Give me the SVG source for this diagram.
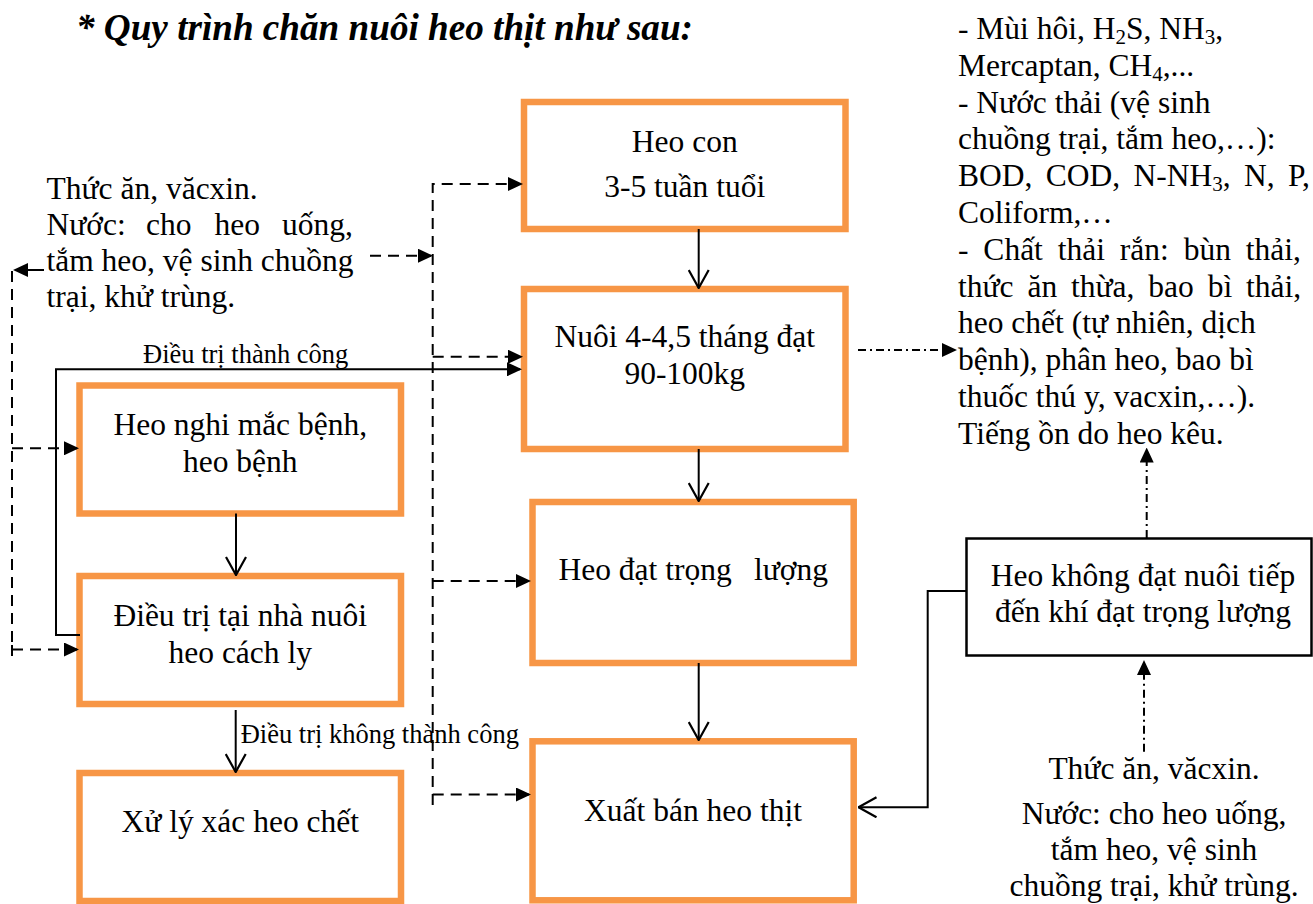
<svg xmlns="http://www.w3.org/2000/svg" width="1313" height="904" viewBox="0 0 1313 904">
  <style>
    .t { font-family: "Liberation Serif", "Times New Roman", serif; font-size: 31.5px; fill: #000; }
    .c { text-anchor: middle; }
    .lbl { font-family: "Liberation Serif", "Times New Roman", serif; font-size: 26.5px; fill: #000; }
    .title { font-family: "Liberation Serif", "Times New Roman", serif; font-size: 38px; font-weight: bold; font-style: italic; fill: #000; }
    .box { fill: #fff; stroke: #F79646; stroke-width: 6.5; }
    .box2 { fill: #fff; stroke: #000; stroke-width: 2.5; }
    .solid { fill: none; stroke: #000; stroke-width: 2; }
    .dash { fill: none; stroke: #000; stroke-width: 2; stroke-dasharray: 11 7; }
    .dashdot { fill: none; stroke: #000; stroke-width: 2; stroke-dasharray: 8 4 2 4; }
  </style>
  <defs>
    <marker id="open" markerUnits="userSpaceOnUse" viewBox="0 0 20 22" refX="19" refY="11" markerWidth="20" markerHeight="22" orient="auto">
      <path d="M1,1 L19,11 L1,21" fill="none" stroke="#000" stroke-width="2.2"/>
    </marker>
    <marker id="tri" markerUnits="userSpaceOnUse" viewBox="0 0 15 14" refX="13" refY="7" markerWidth="15" markerHeight="14" orient="auto">
      <path d="M0,0 L15,7 L0,14 Z" fill="#000"/>
    </marker>
  </defs>

  <!-- heading -->
  <text class="title" x="76" y="40" textLength="617" lengthAdjust="spacingAndGlyphs">* Quy trình chăn nuôi heo thịt như sau:</text>

  <!-- inputs for the rearing line -->
  <g id="inputs-left">
    <text class="t" x="46.5" y="198.5">Thức ăn, văcxin.</text>
    <text class="t" y="234.5"><tspan x="46.5">Nước:</tspan><tspan x="146">cho</tspan><tspan x="214.5">heo</tspan><tspan x="282">uống,</tspan></text>
    <text class="t" x="46.5" y="270.5">tắm heo, vệ sinh chuồng</text>
    <text class="t" x="46.5" y="306.5">trại, khử trùng.</text>
  </g>

  <!-- emissions -->
  <g id="emissions">
    <text class="t" x="958" y="39">- Mùi hôi, H<tspan font-size="21" dy="5">2</tspan><tspan dy="-5">S, NH</tspan><tspan font-size="21" dy="5">3</tspan><tspan dy="-5">,</tspan></text>
    <text class="t" x="958" y="75.8">Mercaptan, CH<tspan font-size="21" dy="5">4</tspan><tspan dy="-5">,...</tspan></text>
    <text class="t" x="958" y="112.6">- Nước thải (vệ sinh</text>
    <text class="t" x="958" y="149.4">chuồng trại, tắm heo,…):</text>
    <text class="t" x="958" y="186.2" word-spacing="5.5">BOD, COD, N-NH<tspan font-size="21" dy="5">3</tspan><tspan dy="-5">, N, P,</tspan></text>
    <text class="t" x="958" y="223">Coliform,…</text>
    <text class="t" x="958" y="259.8" word-spacing="7">- Chất thải rắn: bùn thải,</text>
    <text class="t" x="958" y="296.6" word-spacing="6">thức ăn thừa, bao bì thải,</text>
    <text class="t" x="958" y="333.4">heo chết (tự nhiên, dịch</text>
    <text class="t" x="958" y="370.2">bệnh), phân heo, bao bì</text>
    <text class="t" x="958" y="407">thuốc thú y, vacxin,…).</text>
    <text class="t" x="958" y="443.8">Tiếng ồn do heo kêu.</text>
  </g>

  <!-- inputs for underweight pigs -->
  <g id="inputs-right">
    <text class="t c" x="1154" y="779">Thức ăn, văcxin.</text>
    <text class="t c" x="1154" y="823.5">Nước: cho heo uống,</text>
    <text class="t c" x="1154" y="860">tắm heo, vệ sinh</text>
    <text class="t c" x="1154" y="896">chuồng trại, khử trùng.</text>
  </g>

  <!-- main line -->
  <g id="heo-con">
    <rect class="box" x="524" y="102" width="321.5" height="127"/>
    <text class="t c" x="684.75" y="151.7">Heo con</text>
    <text class="t c" x="684.75" y="196.7">3-5 tuần tuổi</text>
  </g>
  <g id="nuoi">
    <rect class="box" x="524" y="289" width="321.5" height="160"/>
    <text class="t c" x="684.75" y="346.7">Nuôi 4-4,5 tháng đạt</text>
    <text class="t c" x="684.75" y="384">90-100kg</text>
  </g>
  <g id="dat-trong-luong">
    <rect class="box" x="532.5" y="502" width="321.2" height="161"/>
    <text class="t" y="580"><tspan x="558.5">Heo đạt trọng</tspan><tspan x="754">lượng</tspan></text>
  </g>
  <g id="xuat-ban">
    <rect class="box" x="532.5" y="741.3" width="321.2" height="159"/>
    <text class="t c" x="693" y="820.7">Xuất bán heo thịt</text>
  </g>

  <!-- sick pig branch -->
  <g id="nghi-benh">
    <rect class="box" x="79.5" y="385.5" width="321.5" height="128"/>
    <text class="t c" x="240.25" y="435">Heo nghi mắc bệnh,</text>
    <text class="t c" x="240.25" y="471.7">heo bệnh</text>
  </g>
  <g id="dieu-tri">
    <rect class="box" x="79.5" y="576" width="321.5" height="128"/>
    <text class="t c" x="240.25" y="626">Điều trị tại nhà nuôi</text>
    <text class="t c" x="240.25" y="663.3">heo cách ly</text>
  </g>
  <g id="xu-ly">
    <rect class="box" x="79.5" y="773" width="321.5" height="128"/>
    <text class="t c" x="240.25" y="831.7">Xử lý xác heo chết</text>
  </g>

  <g id="khong-dat">
    <rect class="box2" x="966.5" y="538.5" width="345" height="117"/>
    <text class="t c" x="1143" y="586">Heo không đạt nuôi tiếp</text>
    <text class="t c" x="1143" y="621.7">đến khí đạt trọng lượng</text>
  </g>

  <!-- connectors -->
  <g id="connectors">
    <!-- main flow -->
    <path class="solid" d="M698.7,229 L698.7,288" marker-end="url(#open)"/>
    <path class="solid" d="M698.7,449 L698.7,501" marker-end="url(#open)"/>
    <path class="solid" d="M698.7,663 L698.7,740" marker-end="url(#open)"/>
    <!-- sick branch -->
    <path class="solid" d="M236,513.5 L236,575" marker-end="url(#open)"/>
    <path class="solid" d="M235.7,710 L235.7,772" marker-end="url(#open)"/>
    <path class="solid" d="M80,635 L56,635 L56,369.3 L520,369.3" marker-end="url(#tri)"/>
    <text class="lbl" x="143" y="363">Điều trị thành công</text>
    <text class="lbl" x="240.7" y="742.7">Điều trị không thành công</text>

    <!-- supply lines (left) -->
    <path class="dash" d="M370,255.7 L431,255.7" marker-end="url(#tri)"/>
    <path class="dash" d="M432.7,805 L432.7,184 L521,184" marker-end="url(#tri)"/>
    <path class="dash" d="M432.7,356.7 L521,356.7" marker-end="url(#tri)"/>
    <path class="dash" d="M432.7,581 L529,581" marker-end="url(#tri)"/>
    <path class="dash" d="M432.7,794.5 L529,794.5" marker-end="url(#tri)"/>
    <path class="solid" d="M44,270 L15,270" marker-end="url(#tri)"/>
    <path class="dash" d="M12,271 L12,655"/>
    <path class="solid" d="M12,645 L12,656"/>
    <path class="dash" d="M12,448.3 L77,448.3" marker-end="url(#tri)"/>
    <path class="dash" d="M12,649.5 L77,649.5" marker-end="url(#tri)"/>

    <!-- emissions and underweight pigs -->
    <path class="dashdot" d="M858,350 L955,350" marker-end="url(#tri)"/>
    <path class="dashdot" d="M1146.7,538 L1146.7,449.5" marker-end="url(#tri)"/>
    <path class="dashdot" d="M1144,751.7 L1144,662" marker-end="url(#tri)"/>
    <path class="solid" d="M966.5,591 L927.7,591 L927.7,807.3 L858.5,807.3" marker-end="url(#open)"/>
  </g>
</svg>
